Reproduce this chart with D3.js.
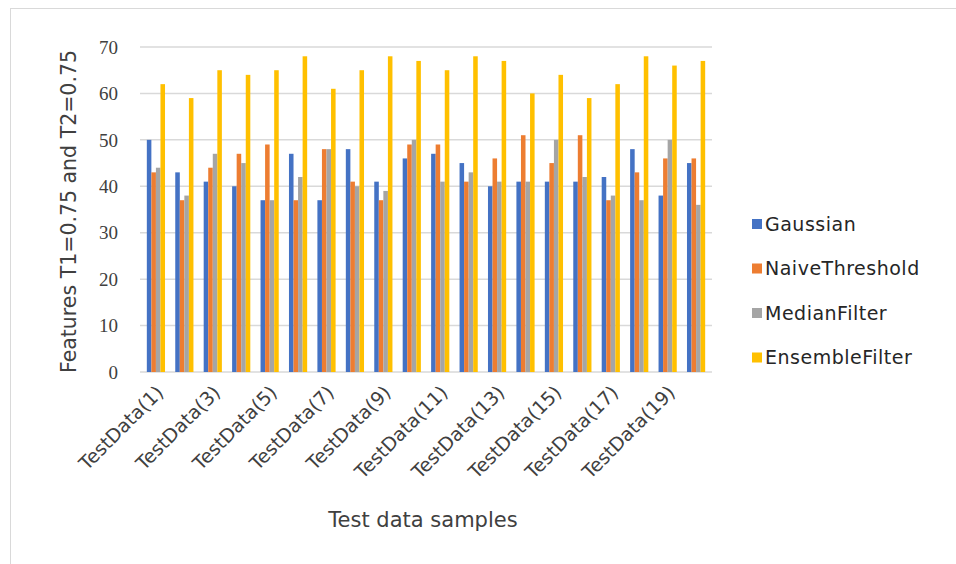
<!DOCTYPE html>
<html>
<head>
  <meta charset='utf-8'>
  <title>Features T1=0.75 and T2=0.75</title>
  <script src="https://cdn.jsdelivr.net/npm/d3@7"></script>
  <style>
    body { margin: 0; background: #fff; }
    text { font-family: "DejaVu Sans", "Noto Sans", sans-serif; fill: #404040; }
  </style>
</head>
<body>
  <svg width="956" height="564" id="chart"></svg>
  <script>
    // chart data
    const categories = d3.range(1, 21).map(i => "TestData(" + i + ")");
    const seriesNames = ["Gaussian", "NaiveThreshold", "MedianFilter", "EnsembleFilter"];
    const gaussian  = [50, 43, 41, 40, 37, 47, 37, 48, 41, 46, 47, 45, 40, 41, 41, 41, 42, 48, 38, 45];
    const naive     = [43, 37, 44, 47, 49, 37, 48, 41, 37, 49, 49, 41, 46, 51, 45, 51, 37, 43, 46, 46];
    const median    = [44, 38, 47, 45, 37, 42, 48, 40, 39, 50, 41, 43, 41, 41, 50, 42, 38, 37, 50, 36];
    const ensemble  = [62, 59, 65, 64, 65, 68, 61, 65, 68, 67, 65, 68, 67, 60, 64, 59, 62, 68, 66, 67];
    const yTicks = [0, 10, 20, 30, 40, 50, 60, 70];
    const colors = ["#4472C4", "#ED7D31", "#A5A5A5", "#FFC000"];

    const values = [gaussian, naive, median, ensemble];

    const svg = d3.select('#chart');

    // outer frame
    svg.append('rect')
      .attr('x', 10.5).attr('y', 8.5)
      .attr('width', 980).attr('height', 600)
      .attr('fill', 'none')
      .attr('stroke', '#d9d9d9');

    const plotLeft = 140, plotRight = 712, plotTop = 47, plotBottom = 372;

    const x = d3.scaleBand()
      .domain(categories)
      .range([plotLeft, plotRight])
      .paddingInner(0.36)
      .paddingOuter(0.24);

    const xs = d3.scaleBand()
      .domain(seriesNames)
      .range([0, x.bandwidth()]);

    const y = d3.scaleLinear()
      .domain([0, 70])
      .range([plotBottom, plotTop]);

    // gridlines
    svg.append('g')
      .selectAll('line')
      .data(yTicks)
      .join('line')
      .attr('x1', plotLeft).attr('x2', plotRight)
      .attr('y1', d => y(d)).attr('y2', d => y(d))
      .attr('stroke', '#d9d9d9')
      .attr('stroke-width', 1.5);

    // y tick labels
    svg.append('g')
      .selectAll('text')
      .data(yTicks)
      .join('text')
      .attr('x', 118)
      .attr('y', d => y(d))
      .attr('dy', '0.35em')
      .attr('text-anchor', 'end')
      .style('font-family', '"Liberation Serif", serif')
      .style('font-size', '19px')
      .text(d => d);

    // bars
    const groups = svg.append('g')
      .selectAll('g')
      .data(categories)
      .join('g')
      .attr('transform', d => `translate(${x(d)},0)`);

    groups.selectAll('rect')
      .data((d, i) => seriesNames.map((s, k) => ({ s: s, k: k, v: values[k][i] })))
      .join('rect')
      .attr('x', d => xs(d.s))
      .attr('width', xs.bandwidth())
      .attr('y', d => y(d.v))
      .attr('height', d => plotBottom - y(d.v))
      .attr('fill', d => colors[d.k]);

    // x tick labels, every other category
    svg.append('g')
      .selectAll('text')
      .data(categories.filter((d, i) => i % 2 == 0))
      .join('text')
      .attr('transform', d => `translate(${x(d) + x.bandwidth() / 2 + 4},${plotBottom + 17}) rotate(-45)`)
      .attr('text-anchor', 'end')
      .attr('dy', '0.35em')
      .style('font-size', '19px')
      .text(d => d);

    // axis titles
    svg.append('text')
      .attr('transform', `translate(76,${(plotTop + plotBottom) / 2 + 2}) rotate(-90)`)
      .attr('text-anchor', 'middle')
      .style('font-size', '20.5px')
      .text('Features T1=0.75 and T2=0.75');

    svg.append('text')
      .attr('x', 423)
      .attr('y', 527)
      .attr('text-anchor', 'middle')
      .style('font-size', '21px')
      .text('Test data samples');

    // legend
    const legend = svg.append('g')
      .selectAll('g')
      .data(seriesNames)
      .join('g')
      .attr('transform', (d, i) => `translate(752,${224 + i * 44.5})`);

    legend.append('rect')
      .attr('x', 0).attr('y', -5)
      .attr('width', 10).attr('height', 10)
      .attr('fill', (d, i) => colors[i]);

    legend.append('text')
      .attr('x', 13)
      .attr('dy', '0.35em')
      .style('font-size', '19px')
      .style('letter-spacing', '0.5px')
      .style('fill', '#262626')
      .text(d => d);
  </script>
</body>
</html>
